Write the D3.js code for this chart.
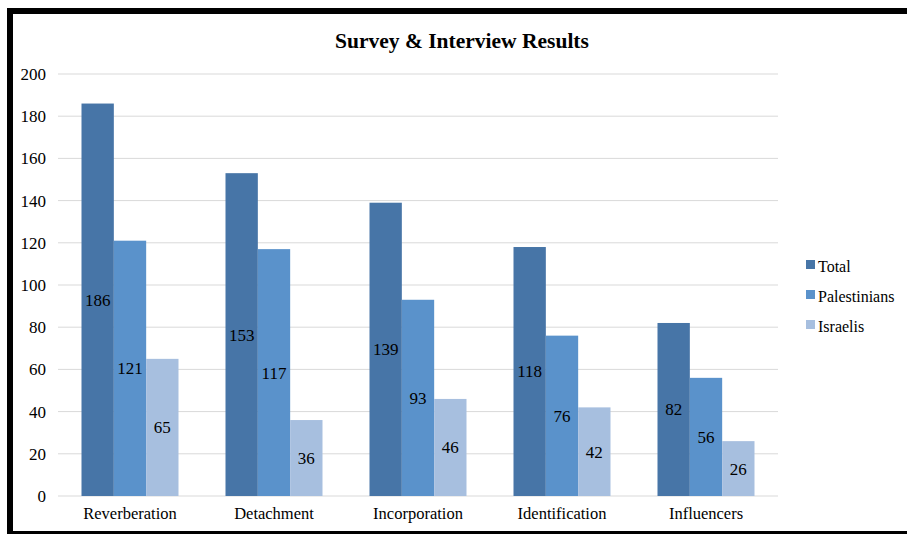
<!DOCTYPE html>
<html>
<head>
<meta charset="utf-8">
<script src="https://cdn.jsdelivr.net/npm/d3@7"></script>
<style>
  body { margin: 0; background: #fff; }
  svg { display: block; }
  svg text { font-family: "Liberation Serif", "Times New Roman", serif !important; }
</style>
</head>
<body>
<svg class="chart" width="907" height="534"></svg>
<script>
var categories = ["Reverberation", "Detachment", "Incorporation", "Identification", "Influencers"];
var seriesNames = ["Total", "Palestinians", "Israelis"];
var totalValues = [186, 153, 139, 118, 82];
var palestinianValues = [121, 117, 93, 76, 56];
var israeliValues = [65, 36, 46, 42, 26];
var yTicks = [0, 20, 40, 60, 80, 100, 120, 140, 160, 180, 200];

var colors = ["#4775a7", "#5a92cb", "#a7bfdf"];
var seriesValues = [totalValues, palestinianValues, israeliValues];

var svg = d3.select(".chart");

// black frame (left, top, bottom)
svg.append("path")
  .attr("d", "M10,534 L10,11 L907,11")
  .attr("fill", "none")
  .attr("stroke", "#000")
  .attr("stroke-width", 6);
svg.append("line")
  .attr("x1", 10).attr("x2", 907)
  .attr("y1", 533).attr("y2", 533)
  .attr("stroke", "#000")
  .attr("stroke-width", 4);

svg.append("text")
  .attr("x", 462)
  .attr("y", 48)
  .attr("text-anchor", "middle")
  .attr("font-size", 21.5)
  .attr("font-weight", "bold")
  .text("Survey & Interview Results");

var x = d3.scaleBand().domain(categories).range([58, 778]);
var xs = d3.scaleBand().domain(seriesNames).range([0, 97]);
var y = d3.scaleLinear().domain([0, 200]).range([496, 74]);

// gridlines
svg.append("g")
  .selectAll("line")
  .data(yTicks)
  .enter().append("line")
  .attr("x1", 58).attr("x2", 778)
  .attr("y1", function(d) { return y(d); })
  .attr("y2", function(d) { return y(d); })
  .attr("stroke", "#d9d9d9")
  .attr("stroke-width", 1);

// y axis labels
var yAxis = svg.append("g")
  .attr("transform", "translate(46,0)")
  .call(d3.axisLeft(y).tickValues(yTicks).tickSize(0).tickPadding(0));
yAxis.select(".domain").remove();
yAxis.selectAll("text")
  .attr("font-size", 17)
  .attr("fill", "#000");

// x axis labels
var xAxis = svg.append("g")
  .attr("transform", "translate(0,507)")
  .call(d3.axisBottom(x).tickSize(0).tickPadding(0));
xAxis.select(".domain").remove();
xAxis.selectAll("text")
  .attr("font-size", 16.5)
  .attr("fill", "#000");

// bars
var groups = svg.append("g")
  .selectAll("g")
  .data(seriesNames)
  .enter().append("g")
  .attr("fill", function(d, i) { return colors[i]; });

groups.each(function(name, si) {
  var g = d3.select(this);
  var vals = seriesValues[si];
  var offset = (x.bandwidth() - 97) / 2;

  g.selectAll("rect")
    .data(vals)
    .enter().append("rect")
    .attr("x", function(d, i) { return x(categories[i]) + offset + xs(name); })
    .attr("y", function(d) { return y(d); })
    .attr("width", xs.bandwidth())
    .attr("height", function(d) { return y(0) - y(d); });

  g.selectAll("text")
    .data(vals)
    .enter().append("text")
    .attr("x", function(d, i) { return x(categories[i]) + offset + xs(name) + xs.bandwidth() / 2; })
    .attr("y", function(d) { return (y(d) + y(0)) / 2; })
    .attr("dy", "0.35em")
    .attr("text-anchor", "middle")
    .attr("font-size", 17)
    .attr("fill", "#000")
    .text(function(d) { return d; });
});

// legend
var legend = svg.append("g")
  .selectAll("g")
  .data(seriesNames)
  .enter().append("g")
  .attr("transform", function(d, i) { return "translate(806," + (266 + i * 30) + ")"; });

legend.append("rect")
  .attr("x", 0).attr("y", -6)
  .attr("width", 9).attr("height", 9)
  .attr("fill", function(d, i) { return colors[i]; });

legend.append("text")
  .attr("x", 12)
  .attr("y", 0)
  .attr("dy", "0.35em")
  .attr("font-size", 16)
  .text(function(d) { return d; });
</script>
</body>
</html>
